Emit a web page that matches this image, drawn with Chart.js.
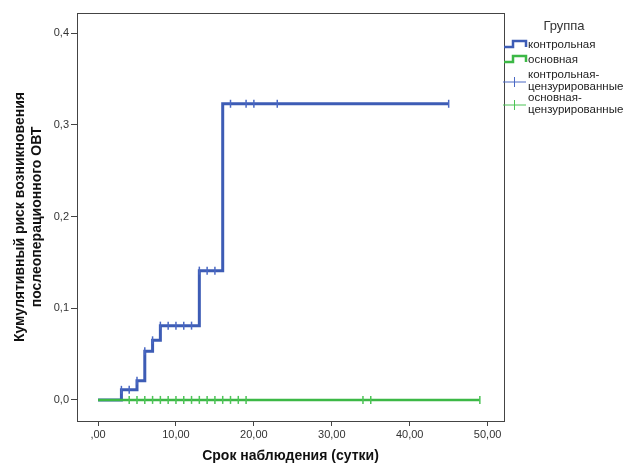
<!DOCTYPE html>
<html>
<head>
<meta charset="utf-8">
<script src="https://cdn.jsdelivr.net/npm/chart.js@4.4.1/dist/chart.umd.min.js"></script>
<style>
  html, body { margin: 0; padding: 0; background: #fff; }
  #wrap { width: 629px; height: 465px; position: relative; }
</style>
</head>
<body>
<div id="wrap"><canvas id="kmChart"></canvas></div>
<script>
// event times and cumulative risk (step curve)
const controlTimes = [0, 3, 5, 6, 7, 8, 13, 16, 45];
const controlRisk = [0, 0.011, 0.021, 0.053, 0.065, 0.081, 0.141, 0.323, 0.323];
const mainTimes = [0, 49];
const mainRisk = [0, 0];

// censored observations
const controlCensored = [3, 4, 5, 6, 7, 8, 9, 10, 11, 12, 13, 14, 15, 17, 19, 20, 23, 45];
const mainCensored = [4, 5, 6, 7, 8, 9, 10, 11, 12, 13, 14, 15, 16, 17, 18, 19, 34, 35, 49];

const xTicks = [0, 10, 20, 30, 40, 50];
const yTicks = [0, 0.1, 0.2, 0.3, 0.4];

const blue = "#3d5cb5";
const green = "#3cb846";
const blueCens = "#4a68c4";
const greenCens = "#4cc456";

// value of the step curve at time t
function riskAt(times, risk, t) {
    let v = risk[0];
    for (let i = 0; i < times.length; i++) {
        if (times[i] <= t) v = risk[i];
    }
    return v;
}

const toPts = (xs, ys) => xs.map((x, i) => ({ x: x, y: ys[i] }));

const frameAndLegend = {
    id: "frameAndLegend",
    afterDraw(chart) {
        const ctx = chart.ctx;
        const a = chart.chartArea;
        ctx.save();
        ctx.strokeStyle = "#444";
        ctx.lineWidth = 1;
        ctx.strokeRect(a.left + 0.5, a.top + 0.5, a.right - a.left, a.bottom - a.top);

        // legend
        ctx.fillStyle = "#333";
        ctx.font = "13px 'Liberation Sans', Arial, sans-serif";
        ctx.textAlign = "center";
        ctx.textBaseline = "middle";
        ctx.fillText("Группа", 564, 26);

        ctx.font = "11.5px 'Liberation Sans', Arial, sans-serif";
        ctx.textAlign = "left";
        const tx = 528;

        const stepIcon = (y, color) => {
            ctx.strokeStyle = color;
            ctx.lineWidth = 2.5;
            ctx.beginPath();
            ctx.moveTo(504, y + 2);
            ctx.lineTo(513, y + 2);
            ctx.lineTo(513, y - 4);
            ctx.lineTo(526, y - 4);
            ctx.lineTo(526, y + 2);
            ctx.stroke();
        };
        const crossIcon = (y, color) => {
            ctx.strokeStyle = color;
            ctx.lineWidth = 1;
            ctx.beginPath();
            ctx.moveTo(503, y);
            ctx.lineTo(526, y);
            ctx.moveTo(514.5, y - 5);
            ctx.lineTo(514.5, y + 5);
            ctx.stroke();
        };

        stepIcon(45, blue);
        ctx.fillStyle = "#222";
        ctx.fillText("контрольная", tx, 45);
        stepIcon(60, green);
        ctx.fillText("основная", tx, 60);
        crossIcon(82, blueCens);
        ctx.fillText("контрольная-", tx, 75);
        ctx.fillText("цензурированные", tx, 87);
        crossIcon(105, greenCens);
        ctx.fillText("основная-", tx, 98);
        ctx.fillText("цензурированные", tx, 110);
        ctx.restore();
    }
};

const ctx = document.getElementById("kmChart").getContext("2d");
new Chart(ctx, {
    type: "scatter",
    data: {
        datasets: [
            {
                label: "контрольная",
                data: toPts(controlTimes, controlRisk),
                showLine: true,
                stepped: "before",
                borderColor: blue,
                borderWidth: 3,
                pointRadius: 0,
                order: 2
            },
            {
                label: "основная",
                data: toPts(mainTimes, mainRisk),
                showLine: true,
                stepped: "before",
                borderColor: green,
                borderWidth: 2.5,
                pointRadius: 0,
                order: 1
            },
            {
                label: "контрольная-цензурированные",
                data: controlCensored.map(t => ({ x: t, y: riskAt(controlTimes, controlRisk, t) })),
                pointStyle: "line",
                rotation: 90,
                pointRadius: 4,
                borderColor: blueCens,
                borderWidth: 1.5,
                order: 0
            },
            {
                label: "основная-цензурированные",
                data: mainCensored.map(t => ({ x: t, y: riskAt(mainTimes, mainRisk, t) })),
                pointStyle: "line",
                rotation: 90,
                pointRadius: 4,
                borderColor: greenCens,
                borderWidth: 1.5,
                order: 0
            }
        ]
    },
    options: {
        responsive: true,
        maintainAspectRatio: false,
        animation: false,
        layout: { padding: { left: 0, top: 13, right: 125, bottom: 0 } },
        plugins: {
            legend: { display: false },
            tooltip: { enabled: false }
        },
        scales: {
            x: {
                type: "linear",
                min: -2.7,
                max: 52.1,
                afterBuildTicks: (axis) => { axis.ticks = xTicks.map(v => ({ value: v })); },
                afterFit: (axis) => { axis.height = 44; },
                grid: { display: true, drawOnChartArea: false, drawTicks: true, tickLength: 5, tickColor: "#444" },
                border: { display: false },
                ticks: {
                    color: "#333",
                    font: { family: "'Liberation Sans', Arial", size: 11 },
                    padding: 2,
                    maxRotation: 0,
                    callback: (v) => (v === 0 ? "" : String(v)) + ",00"
                },
                title: {
                    display: true,
                    text: "Срок наблюдения (сутки)",
                    color: "#111",
                    font: { family: "'Liberation Sans', Arial", size: 14, weight: "bold" },
                    padding: { top: 4, bottom: 0 }
                }
            },
            y: {
                type: "linear",
                min: -0.023,
                max: 0.422,
                afterBuildTicks: (axis) => { axis.ticks = yTicks.map(v => ({ value: v })); },
                afterFit: (axis) => { axis.width = 77; },
                grid: { display: true, drawOnChartArea: false, drawTicks: true, tickLength: 6, tickColor: "#444" },
                border: { display: false },
                ticks: {
                    color: "#333",
                    font: { family: "'Liberation Sans', Arial", size: 11 },
                    padding: 2,
                    callback: (v) => v.toFixed(1).replace(".", ",")
                },
                title: {
                    display: true,
                    text: ["Кумулятивный риск возникновения", "послеоперационного ОВТ"],
                    color: "#111",
                    font: { family: "'Liberation Sans', Arial", size: 14, weight: "bold", lineHeight: 1.2 },
                    padding: { top: 12, bottom: 0 }
                }
            }
        }
    },
    plugins: [frameAndLegend]
});
</script>
</body>
</html>
